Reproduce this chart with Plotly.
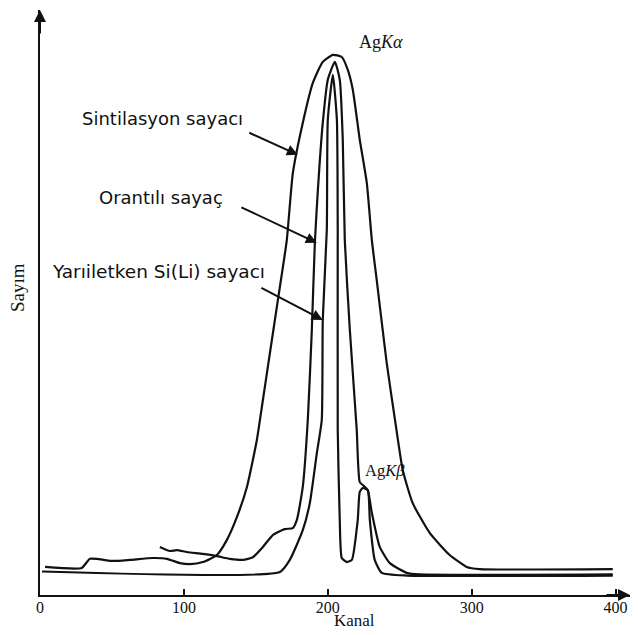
import plotly.graph_objects as go

# ---- data (channel, counts) ----
scint_ch = [3.5, 29, 34.7, 50.7, 62.5, 78.5, 88.2, 97.2, 104.2, 113.2, 122.9, 129.9, 136.8,
            143.8, 150.7, 154.9, 158.3, 165.3, 171.5, 175.7, 182.6, 189.6, 196.5, 203.5,
            209.7, 213.9, 217.4, 222.2, 227.1, 230.6, 234.0, 240.9, 247.2, 252.1, 259.0,
            270.8, 284.7, 296.5, 305.6, 398]
scint_ct = [5.2, 5.0, 6.7, 6.3, 6.5, 6.85, 6.7, 5.9, 5.7, 6.1, 7.4, 10.2, 14.4,
            20.0, 28.7, 36.1, 42.2, 54.6, 65.7, 78.1, 87.4, 94.8, 98.7, 100.0,
            99.6, 97.2, 93.5, 84.3, 76.3, 65.7, 58.3, 43.0, 31.5, 23.1, 17.0,
            11.5, 7.4, 5.2, 4.8, 4.8]

prop_ch = [83.3, 90.3, 95.1, 102.1, 113.2, 122.9, 131.9, 141.0, 147.9, 154.9, 161.8, 170.1,
           175.7, 178.5, 182.6, 186.1, 188.9, 191.0, 193.1, 196.5, 200.0, 204.9, 208.3,
           210.4, 211.8, 215.3, 220.1, 222.2, 225.0, 227.8, 230.6, 236.1, 243.1, 254.9,
           263.9, 398]
prop_ct = [8.9, 8.15, 8.3, 7.96, 7.6, 7.2, 6.7, 6.5, 7.0, 8.9, 11.1, 12.2,
           12.4, 13.9, 20.0, 32.4, 49.1, 65.2, 75.0, 87.4, 95.4, 98.7, 95.4,
           84.3, 65.7, 49.1, 30.6, 20.9, 20.2, 19.4, 15.2, 8.9, 5.9, 4.1,
           3.8, 3.8]

sili_ch = [1.4, 166.7, 173.6, 182.6, 187.5, 192.4, 195.8, 196.5, 199.3, 200.0, 203.5, 206.3,
           206.9, 206.9, 208.3, 209.7, 213.2, 216.7, 220.8, 222.2, 224.3, 227.8, 229.2,
           232.6, 237.5, 254.9, 398]
sili_ct = [4.35, 4.26, 6.5, 12.0, 17.0, 26.3, 32.4, 50.9, 67.6, 88.0, 96.3, 88.0,
           67.6, 30.6, 13.9, 6.85, 6.1, 6.5, 13.9, 19.1, 19.8, 19.4, 13.9,
           6.5, 4.1, 3.6, 3.6]

tick_vals = [0, 100, 200, 300, 400]
tick_text = ["0", "100", "200", "300", "400"]

XMAX = 410
YMAX = 108.3
INK = "#111111"

fig = go.Figure()
for xs, ys in [(scint_ch, scint_ct), (prop_ch, prop_ct), (sili_ch, sili_ct)]:
    fig.add_trace(go.Scatter(x=xs, y=ys, mode="lines",
                             line=dict(color=INK, width=2.2, shape="spline", smoothing=0.5),
                             showlegend=False, hoverinfo="skip"))

ann = []
sans = dict(family="DejaVu Sans, Verdana, sans-serif", size=18, color=INK)
serif = dict(family="Liberation Serif, Times New Roman, serif", color=INK)

# labels
ann.append(dict(x=85.4, y=88.3, xref="x", yref="y", text="Sintilasyon sayacı",
                showarrow=False, font=sans, xanchor="center", yanchor="middle"))
ann.append(dict(x=84.0, y=73.5, xref="x", yref="y", text="Orantılı sayaç",
                showarrow=False, font=sans, xanchor="center", yanchor="middle"))
ann.append(dict(x=82.6, y=59.8, xref="x", yref="y", text="Yarıiletken Si(Li) sayacı",
                showarrow=False, font=dict(sans, size=18.5), xanchor="center", yanchor="middle"))
# pointer arrows (tail -> head)
for (tx, ty, hx, hy) in [(144.4, 85.7, 179.2, 81.5),
                         (138.9, 71.9, 192.4, 65.2),
                         (152.8, 57.0, 196.5, 50.9)]:
    ann.append(dict(x=hx, y=hy, ax=tx, ay=ty, xref="x", yref="y", axref="x", ayref="y",
                    text="", showarrow=True, arrowhead=2, arrowsize=1.1, arrowwidth=2,
                    arrowcolor=INK))
# peak labels
ann.append(dict(x=236.8, y=102.4, xref="x", yref="y", text="Ag<i>Kα</i>",
                showarrow=False, font=dict(serif, size=18), xanchor="center", yanchor="middle"))
ann.append(dict(x=239.6, y=23.1, xref="x", yref="y", text="Ag<i>Kβ</i>",
                showarrow=False, font=dict(serif, size=16.5), xanchor="center", yanchor="middle"))
# axis titles
ann.append(dict(x=218.75, y=-0.043, xref="x", yref="paper", text="Kanal",
                showarrow=False, font=dict(serif, size=17), xanchor="center", yanchor="middle"))
ann.append(dict(x=-0.037, y=0.525, xref="paper", yref="paper", text="Sayım",
                textangle=-90, showarrow=False, font=dict(serif, size=19),
                xanchor="center", yanchor="middle"))
# axis arrow heads
ann.append(dict(x=0, y=YMAX, xref="x", yref="y", ax=0, ay=25, text="", showarrow=True,
                arrowhead=2, arrowsize=1.2, arrowwidth=2, arrowcolor=INK))
ann.append(dict(x=XMAX, y=0, xref="x", yref="y", ax=-25, ay=0, text="", showarrow=True,
                arrowhead=2, arrowsize=1.2, arrowwidth=2, arrowcolor=INK))

fig.update_layout(
    width=638, height=635,
    margin=dict(l=40, r=8, t=10, b=40),
    paper_bgcolor="white", plot_bgcolor="white",
    annotations=ann,
    xaxis=dict(range=[0, XMAX], showgrid=False, zeroline=False, showline=True,
               linecolor=INK, linewidth=2, ticks="inside", ticklen=6, tickwidth=2,
               tickcolor=INK, tickvals=tick_vals, ticktext=tick_text,
               ticklabelstandoff=-3,
               tickfont=dict(family="Liberation Serif, serif", size=16, color=INK)),
    yaxis=dict(range=[0, YMAX], showgrid=False, zeroline=False, showline=True,
               linecolor=INK, linewidth=2, ticks="", showticklabels=False),
)

fig.write_html("out.html")
